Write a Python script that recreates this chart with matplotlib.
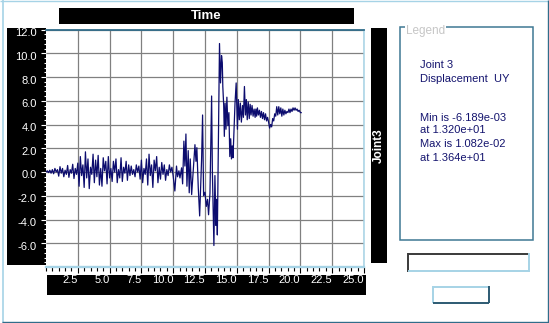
import numpy as np
import matplotlib
matplotlib.use("Agg")
import matplotlib.pyplot as plt
from matplotlib.patches import Rectangle
from matplotlib.lines import Line2D
from matplotlib.ticker import FixedLocator, MultipleLocator
from matplotlib.transforms import ScaledTranslation

plt.rcParams["font.family"] = ["Liberation Sans", "DejaVu Sans"]

# --- data (displacement UY of joint 3, in 1e-3 units) ---
early_step = 0.1  # uniformly sampled part, t = 0.0 .. 10.0
early_disp = [
    0.0, 0.1, -0.05, 0.15, -0.1, 0.2,
    -0.15, 0.3, 0.0, 0.2, -0.35, 0.45, -0.1, 0.3, -0.4, 0.15,
    -0.2, 0.55, -0.45, 0.2, -0.1, 0.65, -0.55, 0.3, -0.2, 0.75,
    -1.2, 1.3, -0.3, 0.6, -1.3, 1.7, -0.5, 1.1, -1.4, 0.4, -0.2, 1.5, -0.9, 1.0,
    -0.4, 1.4, -1.1, 0.3, -1.2, 1.2, 0.1, 0.9, -1.0, 1.3, -0.5,
    0.3, -0.8, 0.9, 0.0, 1.1, -0.9, 0.2, -0.5, 1.2, -0.8, 0.4, -0.1, 0.9, -0.7, 0.6, -0.3,
    0.5, -0.2, 0.2, -0.4, 0.6, 0.0, 0.5, -0.6,
    1.0, -0.9, 0.3, -0.2, 1.1, -1.1, 1.5, -0.3, 0.6, -1.3, 1.0, 0.1, 1.3, -0.9,
    0.4, -0.6, 0.8, -0.2, 0.6, -0.7, 0.2, -0.3, 0.6, 0.0, 0.4, -0.35,
]

late_t = [
    10.13, 10.26, 10.34, 10.45, 10.53, 10.66, 10.74, 10.84, 10.92, 11.0,
    11.08, 11.18, 11.26, 11.34, 11.45, 11.58, 11.71, 11.79, 11.86, 11.97,
    12.08, 12.15, 12.23, 12.31, 12.39, 12.5, 12.6, 12.7, 12.78, 12.89,
    13.02, 13.08, 13.2, 13.28, 13.36, 13.41, 13.47, 13.55, 13.64, 13.72,
    13.8, 13.86, 13.9, 13.97, 14.02, 14.08, 14.15, 14.22, 14.3, 14.38,
    14.45, 14.52, 14.58, 14.64, 14.7, 14.78, 14.86, 14.95, 15.05, 15.12,
    15.2, 15.28, 15.36, 15.45, 15.52, 15.6, 15.68, 15.75, 15.82, 15.9,
    15.98, 16.05, 16.12, 16.2, 16.28, 16.36, 16.44, 16.5, 16.56, 16.62,
    16.7, 16.78, 16.86, 16.94, 17.02, 17.1, 17.18, 17.26, 17.34, 17.42,
    17.5, 17.58, 17.66, 17.74, 17.82, 17.9, 17.98, 18.06, 18.14, 18.22,
    18.3, 18.38, 18.46, 18.54, 18.62, 18.7, 18.78, 18.86, 18.94, 19.02,
    19.1, 19.18, 19.26, 19.34, 19.42, 19.5, 19.58, 19.66, 19.74, 19.82,
    19.9, 20.0, 20.06,
]
late_disp = [
    -1.6, 0.5, -0.4, 0.1, -0.5, 0.35, -1.0, 2.6, 0.5, 3.2,
    -1.2, 1.8, -1.75, 1.1, -1.9, 0.2, 2.3, 0.9, 2.05, -1.3,
    -3.7, -1.6, 1.0, 4.8, -2.0, -1.7, -2.9, -2.3, -3.6, -1.8,
    6.4, 0.0, -6.19, -0.3, -4.5, -2.3, -5.3, 2.0, 10.82, 7.5,
    9.8, 9.2, 7.2, 5.6, 3.0, 5.8, 3.6, 6.3, 3.9, 5.0,
    1.3, 2.8, 1.1, 2.2, 1.2, 3.5, 5.8, 7.5, 3.6, 6.1,
    4.4, 5.8, 4.2, 5.6, 4.6, 7.2, 4.8, 6.1, 4.4, 5.9,
    4.5, 5.7, 4.8, 5.6, 4.7, 5.3, 4.6, 5.3, 4.7, 5.4,
    4.8, 5.2, 4.6, 5.1, 4.5, 5.0, 4.4, 4.9, 4.3, 4.6,
    4.2, 3.7, 4.0, 3.8, 4.5, 4.3, 4.9, 4.7, 5.5, 4.8,
    5.5, 4.9, 5.4, 4.7, 5.3, 4.8, 5.2, 4.9, 5.1, 5.0,
    5.3, 5.0, 5.3, 5.1, 5.4, 5.2, 5.4, 5.2, 5.3, 5.1,
    5.2, 5.0, 5.0,
]

x_ticks = [2.5, 5.0, 7.5, 10.0, 12.5, 15.0, 17.5, 20.0, 22.5, 25.0]
y_ticks = [-6.0, -4.0, -2.0, 0.0, 2.0, 4.0, 6.0, 8.0, 10.0, 12.0]

legend_lines = [
    "Joint 3",
    "Displacement  UY",
    "Min is -6.189e-03",
    "at 1.320e+01",
    "Max is 1.082e-02",
    "at 1.364e+01",
]

t = np.concatenate([np.arange(len(early_disp)) * early_step, late_t])
disp = np.concatenate([early_disp, late_disp])

LINE = "#0c0c6e"
LIGHT = "#a6d3e6"
DARK = "#316d8a"

W, H = 549, 323
fig = plt.figure(figsize=(W / 100, H / 100), dpi=100)
fig.patch.set_facecolor("white")


def frac(x0, y0, x1, y1):
    return [x0 / W, 1 - y1 / H, (x1 - x0) / W, (y1 - y0) / H]


def panel(x0, y0, x1, y1, fc="black", ec="none", lw=0, z=-1):
    fig.add_artist(Rectangle((x0 / W, 1 - y1 / H), (x1 - x0) / W, (y1 - y0) / H,
                             transform=fig.transFigure, facecolor=fc,
                             edgecolor=ec, lw=lw, zorder=z))


def rule(xs, ys, color, lw=1.4):
    fig.add_artist(Line2D([x / W for x in xs], [1 - y / H for y in ys],
                          transform=fig.transFigure, color=color, lw=lw,
                          solid_capstyle="butt", zorder=2))


# window frame
rule([0, 549], [0.6, 0.6], LIGHT, 1.0)
rule([2.7, 2.7], [0, 323], LIGHT, 1.2)
rule([2, 549], [321.8, 321.8], DARK, 1.0)
rule([547.6, 547.6], [0, 322], DARK, 1.0)

# black caption panels
panel(59, 8, 354, 24)
panel(7, 28.3, 46, 264.5)
panel(47, 275, 366, 295)
panel(371, 28.3, 387, 263.3)
fig.text(206 / W, 1 - 16.2 / H, "Time", color="white", fontsize=9.5,
         fontweight="bold", ha="center", va="center")
fig.text(379 / W, 1 - 146 / H, "Joint3", color="white", fontsize=8.5,
         fontweight="bold", rotation=90, ha="center", va="center")

# main plot
ax = fig.add_axes(frac(46, 29.5, 364, 267))
ax.plot(t, disp, color=LINE, lw=0.9)
ax.set_xlim(0, 25)
ax.set_ylim(-8, 12)
ax.set_axisbelow(True)
ax.grid(True, which="major", color="#808080", lw=0.9)

ax.xaxis.set_major_locator(FixedLocator(x_ticks))
ax.set_xticklabels([f"{v:.1f}" for v in x_ticks], ha="right")
ax.xaxis.set_minor_locator(MultipleLocator(0.5))
ax.yaxis.set_major_locator(FixedLocator(y_ticks))
ax.set_yticklabels([f"{v:.1f}" for v in y_ticks])
ax.yaxis.set_minor_locator(MultipleLocator(0.4))

ax.tick_params(axis="y", which="major", direction="out", length=3.6, width=0.8,
               color="white", labelcolor="white", labelsize=8, pad=3)
ax.tick_params(axis="y", which="minor", direction="out", length=1.8, width=0.8,
               color="white")
ax.tick_params(axis="x", which="major", direction="out", length=4.3, width=0.8,
               color="black", labelcolor="white", labelsize=8, pad=1.2)
ax.tick_params(axis="x", which="minor", direction="out", length=2.9, width=0.8,
               color="black")

# y labels sit a little below their grid lines in the original
shift = ScaledTranslation(0, -2.5 / 100, fig.dpi_scale_trans)
for lab in ax.get_yticklabels():
    lab.set_transform(lab.get_transform() + shift)

ax.spines["left"].set_visible(False)
ax.spines["top"].set_color(DARK)
ax.spines["top"].set_linewidth(1.3)
ax.spines["bottom"].set_color(LIGHT)
ax.spines["bottom"].set_linewidth(1.7)
ax.spines["right"].set_color(LIGHT)
ax.spines["right"].set_linewidth(1.1)

# legend group box
panel(400, 26.7, 532.7, 240, fc="none", ec="#3f7893", lw=1.1, z=1)
fig.text(406 / W, 1 - 34.3 / H, "Legend", color="#c6c6c6", fontsize=8.5,
         va="baseline", zorder=3,
         bbox=dict(facecolor="white", edgecolor="none", pad=0.6))
baselines = [68.3, 81.7, 120.7, 132.7, 146.7, 160.7]
for line, yb in zip(legend_lines, baselines):
    fig.text(420 / W, 1 - yb / H, line, color="#14146e", fontsize=8,
             va="baseline")

# sunken text field
rule([407.7, 529.3], [254, 254], "#3a3a3a", 1.4)
rule([408.4, 408.4], [253.3, 271.7], "#3a3a3a", 1.4)
rule([407.7, 529.3], [271, 271], LIGHT, 1.4)
rule([528.6, 528.6], [253.3, 271.7], LIGHT, 1.4)

# raised button
rule([432.7, 489.3], [286.7, 286.7], LIGHT, 1.4)
rule([433.4, 433.4], [286, 303.3], LIGHT, 1.4)
rule([432.7, 489.3], [302.6, 302.6], "#2c5a72", 1.4)
rule([488.6, 488.6], [286, 303.3], "#2c5a72", 1.4)

fig.savefig("out.png", dpi=100)
